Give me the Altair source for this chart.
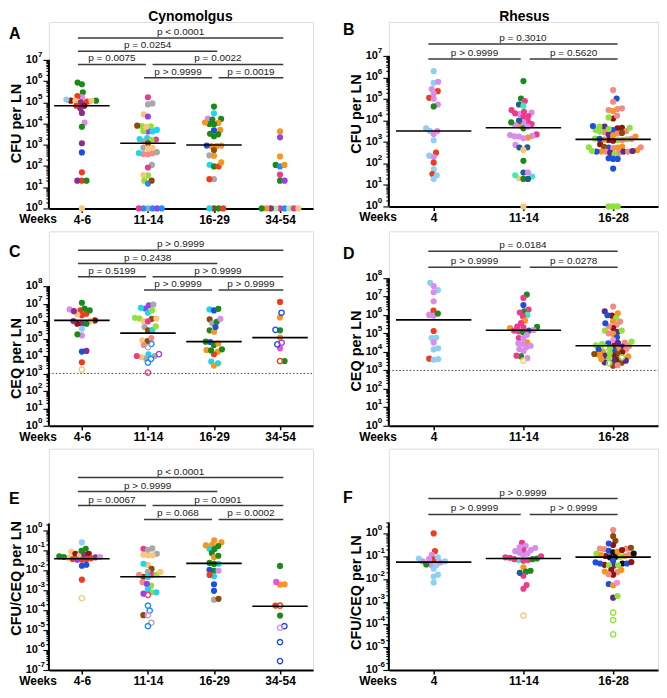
import math
import altair as alt
import pandas as pd

FONT = "Liberation Sans"

COLORS = {
    "green": "#1B8A1B", "plum": "#D98CEB", "peach": "#F8C77D", "maroon": "#8C1616",
    "red": "#EF3B1E", "purple": "#8B2F8C", "sky": "#8DD0F4", "blue": "#1D4FDF",
    "cyan": "#1AD6F0", "orange": "#F7951F", "gray": "#A8A8A8", "brown": "#8C4A0C",
    "pink": "#EC3B8D", "salmon": "#F38B84", "lime": "#8FE23B", "violet": "#9A3EEA",
    "dodger": "#1E8EFE", "teal": "#1E5E8A", "aqua": "#3EEBB3", "indigo": "#5B2B8B",
    "black": "#111111", "lgreen": "#A6EFA6", "magenta": "#F24BE6", "lpink": "#F391D8",
}

# ---------------- data: log10 values ('*' = open symbol) ----------------
A_GROUPS = ["4-6", "11-14", "16-29", "34-54"]
A_LOG10 = [
    [5.93, 5.85, 5.47, 5.24, 5.29, 5.08, 5.07, 5.03, 5.00, 5.08, 5.07, 5.13, 4.84, 4.84, 4.72, 4.50, 4.04, 3.85,
     3.07, 2.64, 1.70, 1.31, 1.31, 1.31, 0],
    [5.24, 4.90, 4.95, 4.43, 4.33, 3.88, 3.87, 3.63, 3.65, 3.70, 3.63, 3.85, 3.90, 3.31, 3.25, 3.22, 3.16, 3.27,
     3.07, 2.86, 2.83, 2.60, 2.56, 2.55, 2.61, 2.65, 2.86, 2.05, 1.93, 1.56, 1.57, 1.31, 1.17, 1.31, 0, 0, 0, 0, 0, 0],
    [4.80, 4.48, 4.24, 4.22, 4.19, 4.03, 3.97, 3.98, 4.05, 3.70, 3.68, 3.52, 3.40, 3.49, 2.96, 2.94, 2.94, 2.96,
     2.75, 2.50, 2.48, 2.06, 1.98, 1.98, 2.17, 1.38, 1.38, 0, 0, 0, 0],
    [3.63, 3.35, 2.45, 2.05, 1.98, 2.05, 1.59, 1.31, 1.31, 0, 0, 0, 0, 0, 0, 0, 0, 0],
]
A_COLS = [
    ["green", "green", "green", "plum", "red", "maroon", "peach", "red", "purple", "green", "peach", "sky", "maroon",
     "red", "purple", "purple", "plum", "green", "purple", "blue", "red", "red", "green", "purple", "peach"],
    ["pink", "gray", "gray", "peach", "violet", "lime", "lime", "violet", "lime", "cyan", "cyan", "peach", "brown",
     "cyan", "pink", "lime", "gray", "cyan", "brown", "gray", "peach", "salmon", "salmon", "salmon", "cyan", "gray",
     "peach", "gray", "pink", "lime", "peach", "lime", "dodger", "brown", "gray", "dodger", "dodger", "violet",
     "pink", "dodger"],
    ["green", "cyan", "plum", "green", "green", "orange", "green", "green", "orange", "orange", "blue", "green",
     "green", "green", "orange", "orange", "orange", "blue", "brown", "gray", "orange", "cyan", "green", "red",
     "orange", "gray", "red", "brown", "green", "cyan", "red"],
    ["orange", "violet", "orange", "green", "dodger", "orange", "pink", "green", "violet", "pink", "dodger",
     "lgreen", "lgreen", "purple", "pink", "orange", "peach", "green"],
]
A_MEDIANS = [4.84, 3.07, 2.99, None]
A_BRACKETS = [(0, 3, "p < 0.0001", 0), (0, 2, "p = 0.0254", 1), (0, 1, "p = 0.0075", 2),
              (1, 3, "p = 0.0022", 2), (1, 2, "p > 0.9999", 3), (2, 3, "p = 0.0019", 3)]

B_GROUPS = ["4", "11-14", "16-28"]
B_LOG10 = [
    [6.29, 5.75, 5.80, 5.36, 5.46, 5.05, 5.25, 5.01, 4.74, 4.65, 3.63, 3.51, 3.51, 3.37, 3.08, 2.50, 2.36, 2.30,
     2.04, 1.73, 1.51, 1.45, 1.28],
    [5.83, 5.02, 4.90, 4.74, 4.68, 4.48, 4.37, 4.30, 4.20, 4.17, 4.33, 4.40, 3.97, 3.83, 3.76, 3.91, 3.99, 3.63,
     3.71, 3.79, 3.91, 3.35, 3.28, 3.20, 3.25, 3.17, 3.26, 3.32, 2.86, 2.74, 2.75, 2.63, 2.12, 1.58, 1.39, 1.31,
     1.28, 1.28, 1.45, 1.58, 0],
    [5.41, 5.02, 4.87, 4.53, 4.48, 4.56, 4.44, 4.09, 4.14, 4.22,
     3.71, 3.66, 3.63, 3.55, 3.51, 3.45, 3.39, 3.35, 3.42, 3.48, 3.55, 3.60, 3.66, 3.71, 3.74,
     3.25, 3.15, 3.12, 3.09, 3.09, 3.06, 3.09, 3.11, 3.14, 3.14, 3.31,
     2.89, 2.74, 2.71, 2.78, 2.74, 2.75, 2.75, 2.77,
     2.55, 2.49, 2.50, 2.55, 2.55, 2.61, 2.55, 2.43, 2.58, 2.55, 2.58,
     2.24, 2.21, 2.21, 1.76, 0, 0, 0],
]
B_COLS = [
    ["sky", "sky", "plum", "red", "plum", "red", "plum", "plum", "plum", "green", "sky", "sky", "plum", "plum",
     "sky", "red", "sky", "plum", "red", "sky", "red", "sky", "sky"],
    ["green", "green", "pink", "teal", "aqua", "pink", "plum", "plum", "pink", "pink", "pink", "pink", "pink",
     "pink", "orange", "plum", "teal", "green", "plum", "plum", "green", "pink", "plum", "orange", "plum", "plum",
     "plum", "plum", "plum", "teal", "teal", "peach", "green", "teal", "aqua", "peach", "green", "teal", "aqua",
     "plum", "peach"],
    ["salmon", "blue", "salmon", "salmon", "salmon", "salmon", "orange", "maroon", "lime", "salmon",
     "indigo", "maroon", "maroon", "blue", "salmon", "salmon", "salmon", "indigo", "brown", "lime", "lime", "lime",
     "lime", "lime", "blue",
     "orange", "lime", "lime", "lime", "maroon", "maroon", "salmon", "orange", "blue", "salmon", "orange",
     "maroon", "blue", "salmon", "orange", "orange", "lime", "salmon", "brown",
     "salmon", "indigo", "salmon", "indigo", "orange", "orange", "salmon", "lime", "indigo", "blue", "lime",
     "blue", "blue", "blue", "blue", "lime", "lime", "lime"],
]
B_MEDIANS = [3.51, 3.66, 3.12]
B_BRACKETS = [(0, 2, "p = 0.3010", 0), (0, 1, "p > 0.9999", 1), (1, 2, "p = 0.5620", 1)]

C_GROUPS = ["4-6", "11-14", "16-29", "34-54"]
C_LOG10 = [
    [7.05, 6.67, 6.61, 6.42, 6.34, 6.38, 6.57, 6.61, 6.72, 6.04, 6.00, 5.85, 5.85, 5.85, 6.00, 5.56, 5.18, 5.24,
     4.29, 4.25, 3.64, 3.22],
    [6.91, 6.72, 6.48, 6.61, 6.76, 6.95, 6.15, 6.13, 6.00, 5.98, 6.19, 6.15, 5.66, 5.47, 5.50, 5.70, 4.69, 4.50,
     4.90, 4.86, 5.03, 4.63, 4.10, 4.11, 3.83, 3.62, 4.00, 3.87, 3.94, 4.00, 3.05],
    [6.67, 6.61, 6.70, 6.10, 5.87, 5.96, 6.13, 5.47, 5.39, 5.66, 4.80, 4.63, 4.72, 4.82, 4.34, 4.25, 4.10, 4.32,
     4.38, 3.68, 3.58, 3.45],
    [7.10, 6.48, 6.21, 5.50, 5.47, 5.05, 4.67, 4.76, 4.44, 3.71, 3.71],
]
C_COLS = [
    ["green", "plum", "red", "red", "red", "peach", "purple", "green", "green", "maroon", "peach", "purple", "green",
     "maroon", "purple", "sky", "plum", "green", "purple", "blue", "red", "peach*"],
    ["violet", "violet", "cyan", "lime", "cyan", "gray", "lime", "brown", "peach", "pink", "lime", "peach", "gray",
     "brown", "cyan", "lime", "dodger*", "gray*", "peach", "brown", "salmon", "salmon", "cyan", "violet*",
     "dodger*", "dodger*", "gray", "gray", "peach", "pink", "pink*"],
    ["cyan", "blue", "green", "brown", "gray", "green", "plum", "green", "orange", "blue", "blue", "green",
     "orange", "green", "orange", "orange", "red", "green", "green", "cyan", "cyan", "orange"],
    ["red", "blue*", "orange", "blue*", "green", "orange", "blue*", "violet*", "magenta", "red*", "green"],
]
C_MEDIANS = [6.04, 5.31, 4.82, 5.05]
C_BRACKETS = [(0, 3, "p > 0.9999", 0), (0, 2, "p = 0.2438", 1), (0, 1, "p = 0.5199", 2),
              (1, 3, "p > 0.9999", 2), (1, 2, "p > 0.9999", 3), (2, 3, "p > 0.9999", 3)]

D_GROUPS = ["4", "11-14", "16-28"]
D_LOG10 = [
    [7.75, 7.35, 7.58, 7.24, 6.75, 6.24, 6.01, 5.97, 6.08, 5.14, 4.76, 4.78, 4.52, 4.20, 4.14, 3.64, 3.58, 3.62],
    [7.11, 6.93, 6.55, 6.21, 6.30, 6.14, 6.01, 5.94, 5.70, 5.57, 5.36, 5.30, 5.16, 5.12, 5.07, 5.16, 5.19, 5.34,
     5.38, 4.76, 4.52, 4.43, 4.47, 4.74, 4.92, 4.16, 4.04, 4.25, 4.34, 3.76, 3.67, 3.80, 3.53],
    [6.46, 6.21, 6.10, 5.97, 5.99, 5.85, 5.65, 5.48, 5.30, 5.38,
     5.56, 5.65, 5.16, 5.09, 4.98, 4.80, 5.01, 5.16, 4.65, 4.51,
     4.47, 4.36, 4.29, 4.33, 4.34, 4.43, 4.49, 4.56, 4.16, 4.07,
     4.25, 4.22, 4.13, 3.98, 4.02, 4.14, 3.85, 3.89, 3.80, 3.76,
     3.80, 3.89, 3.95, 3.71, 3.58, 3.53, 3.42, 3.40, 3.26, 3.28,
     3.44, 3.53, 3.62, 3.67],
]
D_COLS = [
    ["sky", "sky", "plum", "plum", "plum", "red", "plum", "plum", "green", "red", "sky", "sky", "plum", "sky", "sky",
     "red", "sky", "sky"],
    ["green", "pink", "blue", "green", "pink", "pink", "aqua", "pink", "orange", "pink", "green", "orange", "teal",
     "pink", "green", "pink", "plum", "pink", "pink", "pink", "orange", "plum", "plum", "plum", "plum", "plum",
     "plum", "plum", "plum", "green", "plum", "pink", "peach*"],
    ["salmon", "indigo", "orange", "maroon", "blue", "lime", "orange", "salmon", "maroon", "salmon",
     "blue", "salmon", "lime", "indigo", "orange", "blue", "salmon", "lime", "lpink", "salmon",
     "blue", "lime", "indigo", "salmon", "maroon", "lime", "indigo", "lime", "orange", "blue",
     "lime*", "lime", "salmon", "maroon", "orange", "blue", "orange", "brown", "maroon", "orange",
     "indigo", "brown", "lime", "lime*", "maroon", "indigo", "brown", "lime*", "brown", "salmon",
     "indigo", "indigo", "orange", "lime"],
]
D_MEDIANS = [5.74, 5.18, 4.34]
D_BRACKETS = [(0, 2, "p = 0.0184", 0), (0, 1, "p > 0.9999", 1), (1, 2, "p = 0.0278", 1)]

E_GROUPS = ["4-6", "11-14", "16-29", "34-54"]
E_LOG10 = [
    [-0.60, -0.92, -1.07, -1.17, -1.25, -1.35, -1.37, -1.43, -1.47, -1.33, -1.30, -1.22, -1.02, -1.17, -1.33,
     -1.47, -1.45, -1.40, -1.72, -1.77, -2.47, -3.40],
    [-0.92, -1.17, -1.25, -1.25, -1.22, -0.97, -0.90, -1.73, -1.67, -1.93, -2.08, -2.22, -2.32, -2.33, -2.22,
     -2.22, -2.08, -2.60, -2.77, -2.68, -3.10, -3.17, -3.23, -3.10, -2.95, -3.77, -4.02, -4.25, -4.25, -4.63,
     -4.80],
    [-0.60, -0.50, -0.72, -0.78, -0.92, -0.93, -0.75, -1.13, -1.35, -1.27, -1.67, -1.68, -1.63, -2.02, -1.97,
     -2.02, -2.30, -2.23, -2.70, -3.03, -3.47, -3.43],
    [-1.78, -2.70, -2.72, -2.58, -3.77, -3.77, -4.27, -4.80, -4.88, -5.60, -6.55],
]
E_COLS = [
    ["sky", "green", "peach", "maroon", "peach", "purple", "peach", "red", "red", "green", "green", "purple",
     "green", "maroon", "plum", "violet", "red", "red", "blue", "blue", "red", "peach*"],
    ["pink", "gray", "peach", "peach", "peach", "gray", "gray", "peach", "cyan", "brown", "gray", "pink", "brown",
     "cyan", "lime", "salmon", "peach", "salmon", "lime", "violet", "lime", "violet", "pink*", "cyan", "cyan",
     "dodger*", "dodger*", "plum*", "brown", "gray*", "dodger*"],
    ["orange", "orange", "orange", "green", "cyan", "green", "orange", "green", "orange", "green", "cyan", "green",
     "green", "green", "blue", "plum", "cyan", "red", "blue", "blue", "gray", "brown"],
    ["green", "orange", "orange", "magenta", "red*", "red", "green", "blue*", "plum*", "blue*", "blue*"],
]
E_MEDIANS = [-1.42, -2.32, -1.65, -3.80]
E_BRACKETS = [(0, 3, "p < 0.0001", 0), (0, 2, "p > 0.9999", 1), (0, 1, "p = 0.0067", 2),
              (1, 3, "p = 0.0901", 2), (1, 2, "p = 0.068", 3), (2, 3, "p = 0.0002", 3)]

F_GROUPS = ["4", "11-14", "16-28"]
F_LOG10 = [
    [0.0, -0.78, -0.94, -1.14, -1.05, -1.13, -1.23, -1.38, -1.36, -1.55, -1.38, -1.27, -1.10, -1.23, -1.81,
     -1.89, -2.15],
    [-0.41, -0.54, -0.64, -0.73, -0.85, -0.88, -0.78, -0.73, -0.60, -0.97, -1.05, -1.07, -1.17, -1.17, -1.20,
     -1.13, -1.13, -1.10, -1.00, -1.49, -1.68, -1.86, -1.73, -1.64, -2.27, -2.43, -3.61],
    [0.15, -0.12, -0.32, -0.51, -0.66, -0.69, -0.66, -0.63, -0.44, -0.76,
     -0.83, -0.89, -0.92, -0.99, -1.02, -1.02, -1.05, -0.99, -0.95, -0.88,
     -0.80, -0.73, -1.20, -1.27, -1.32, -1.38, -1.42, -1.40, -1.40, -1.32,
     -1.32, -1.26, -1.61, -1.70, -1.81, -1.79, -1.67, -1.61, -2.22, -2.28,
     -2.17, -2.82, -2.75, -3.48, -3.81, -4.43],
]
F_COLS = [
    ["red", "red", "plum", "red", "sky", "plum", "plum", "plum", "green", "sky", "sky", "plum", "sky", "sky", "sky",
     "sky", "sky"],
    ["pink", "plum", "plum", "pink", "plum", "plum", "plum", "plum", "plum", "plum", "pink", "pink", "pink", "aqua",
     "pink", "green", "pink", "green", "pink", "orange", "green", "pink", "teal", "green", "pink", "pink", "peach*"],
    ["salmon", "brown", "brown", "maroon", "salmon", "salmon", "salmon", "brown", "blue", "blue",
     "black", "lime", "salmon", "maroon", "black", "lime", "black", "orange", "orange", "black",
     "orange", "maroon", "blue", "blue", "black", "maroon", "indigo", "lime", "lime", "blue",
     "blue", "maroon", "maroon", "salmon", "maroon", "salmon", "orange", "orange", "blue", "orange",
     "lpink", "indigo", "lime", "lime*", "lime*", "lime*"],
]
F_MEDIANS = [-1.26, -1.10, -1.04]
F_BRACKETS = [(0, 2, "p > 0.9999", 0), (0, 1, "p > 0.9999", 1), (1, 2, "p > 0.9999", 1)]

DATA = {
    "A": (A_GROUPS, A_LOG10, A_COLS, A_MEDIANS, A_BRACKETS),
    "B": (B_GROUPS, B_LOG10, B_COLS, B_MEDIANS, B_BRACKETS),
    "C": (C_GROUPS, C_LOG10, C_COLS, C_MEDIANS, C_BRACKETS),
    "D": (D_GROUPS, D_LOG10, D_COLS, D_MEDIANS, D_BRACKETS),
    "E": (E_GROUPS, E_LOG10, E_COLS, E_MEDIANS, E_BRACKETS),
    "F": (F_GROUPS, F_LOG10, F_COLS, F_MEDIANS, F_BRACKETS),
}

# ---------------- layout ----------------
LEFT_W, RIGHT_W = 265, 270
LAYOUT = {
    "A": dict(W=LEFT_W, H=187, lo=0, hi=8.785, top=7, ytitle="CFU per LN", tc=4.0, br0=16, brs=13.3,
              lx=-40, ly=17, head=("Cynomolgus", 142), lod=None),
    "B": dict(W=RIGHT_W, H=185, lo=0, hi=8.576, top=7, ytitle="CFU per LN", tc=4.3, br0=22, brs=15,
              lx=-46, ly=13, head=("Rhesus", 136), lod=None),
    "C": dict(W=LEFT_W, H=195, lo=0, hi=11.143, top=8, ytitle="CEQ per LN", tc=3.85, br0=19, brs=13.3,
              lx=-40, ly=26, head=None, lod=3),
    "D": dict(W=RIGHT_W, H=195, lo=0, hi=10.54, top=8, ytitle="CEQ per LN", tc=4.05, br0=20, brs=16,
              lx=-46, ly=28, head=None, lod=3),
    "E": dict(W=LEFT_W, H=222, lo=-7, hi=4.1, top=0.35, ytitle="CFU/CEQ per LN", tc=-2.4, br0=29, brs=14,
              lx=-40, ly=55, head=None, lod=None),
    "F": dict(W=RIGHT_W, H=222, lo=-6, hi=3.723, top=0.48, ytitle="CFU/CEQ per LN", tc=-2.6, br0=50, brs=16,
              lx=-46, ly=54, head=None, lod=None),
}
SW_DY = 5.0   # vertical reach (px) of the elliptical exclusion zone around a placed point
SW_DX = 4.6   # horizontal reach (px) of that zone


def swarm(ys, dy_lim, dx):
    order = sorted(range(len(ys)), key=lambda i: ys[i])
    xs = [0.0] * len(ys)
    done = []
    flip = 1
    for i in order:
        spans = []
        for j in done:
            t = (ys[i] - ys[j]) / dy_lim
            if abs(t) < 1:
                w = dx * math.sqrt(1 - t * t)
                spans.append((xs[j] - w, xs[j] + w))
        cands = [0.0] + [s[0] for s in spans] + [s[1] for s in spans]
        ok = [c for c in cands if all(not (a + 1e-6 < c < b - 1e-6) for a, b in spans)]
        best = min(ok, key=lambda c: (round(abs(c), 3), -flip * c))
        xs[i] = best
        if abs(best) > 1e-9:
            flip = -flip
        done.append(i)
    return xs


def panel(key):
    groups, logs, cols, meds, brs = DATA[key]
    L = LAYOUT[key]
    n = len(groups)
    W, H, lo, hi = L["W"], L["H"], L["lo"], L["hi"]
    pxdec = H / (hi - lo)
    band = W / n

    pts = []
    for g in range(n):
        assert len(logs[g]) == len(cols[g]), (key, g)
        xs = swarm([v * pxdec for v in logs[g]], SW_DY, SW_DX)
        for v, c, xp in zip(logs[g], cols[g], xs):
            pts.append(dict(x=g + xp / band, y=10 ** v, color=COLORS[c.rstrip("*")], open=c.endswith("*")))
    pdf = pd.DataFrame(pts)

    xscale = alt.Scale(domain=[-0.5, n - 0.5], nice=False, zero=False)
    yscale = alt.Scale(type="log", domain=[10 ** lo, 10 ** hi], nice=False)
    names = "[" + ",".join("'%s'" % g for g in groups) + "]"
    xaxis = alt.Axis(values=list(range(n)), labelExpr=names + "[round(datum.value)]", title=None, grid=False,
                     domainColor="black", domainWidth=2, tickColor="black", tickWidth=1.5, tickSize=4,
                     labelFont=FONT, labelFontSize=12, labelFontWeight="bold", labelColor="black",
                     labelPadding=2, labelOverlap=False, labelFlush=False)
    ticks = []
    for e in range(math.floor(lo), math.ceil(L["top"]) + 1):
        for k in range(1, 10):
            lv = e + math.log10(k)
            if lo - 1e-9 <= lv <= L["top"] + 1e-9:
                ticks.append(k * 10.0 ** e)
    yaxis = alt.Axis(values=ticks, labels=False, title=None, grid=False, domain=False, tickColor="black",
                     tickWidth=1.1,
                     tickSize={"condition": {"test": "abs(log(datum.value)/LN10 - round(log(datum.value)/LN10)) < 0.01",
                                             "value": 6}, "value": 3})

    def X(f):
        return alt.X(f, type="quantitative", scale=xscale, axis=xaxis)

    def Y(f):
        return alt.Y(f, type="quantitative", scale=yscale, axis=yaxis)

    layers = []
    filled = pdf[~pdf["open"]]
    layers.append(alt.Chart(filled).mark_circle(size=38, opacity=1).encode(
        x=X("x"), y=Y("y"), color=alt.Color("color:N", scale=None)))
    hollow = pdf[pdf["open"]]
    if len(hollow):
        layers.append(alt.Chart(hollow).mark_point(filled=False, size=28, strokeWidth=1.4, opacity=1,
                                                   shape="circle").encode(
            x=X("x"), y=Y("y"), color=alt.Color("color:N", scale=None)))

    # medians
    mrows = [dict(x1=g - 0.42, x2=g + 0.42, y=10 ** m) for g, m in enumerate(meds) if m is not None]
    layers.append(alt.Chart(pd.DataFrame(mrows)).mark_rule(color="black", strokeWidth=1.6).encode(
        x=X("x1"), x2="x2:Q", y=Y("y")))

    # detection limit
    if L["lod"] is not None:
        layers.append(alt.Chart(pd.DataFrame([dict(x1=-0.5, x2=n - 0.5, y=10 ** L["lod"])])).mark_rule(
            color="#444", strokeWidth=1, strokeDash=[1.5, 2]).encode(x=X("x1"), x2="x2:Q", y=Y("y")))

    # y axis line
    layers.append(alt.Chart(pd.DataFrame([dict(x=-0.5, y1=10 ** lo, y2=10 ** L["top"])])).mark_rule(
        color="black", strokeWidth=2).encode(x=X("x"), y=Y("y1"), y2="y2:Q"))

    # y tick labels 10^n
    lab = pd.DataFrame([dict(y=10.0 ** e, e=str(e)) for e in range(math.ceil(lo), math.floor(L["top"]) + 1)])
    layers.append(alt.Chart(lab).mark_text(font=FONT, fontSize=11, fontWeight="bold", align="right",
                                           baseline="middle", color="black", text="10").encode(
        x=alt.value(-11), y=Y("y")))
    layers.append(alt.Chart(lab).mark_text(font=FONT, fontSize=8, fontWeight="bold", align="left",
                                           baseline="middle", color="black", dy=-5).encode(
        x=alt.value(-11), y=Y("y"), text="e:N"))

    # y title
    layers.append(alt.Chart(pd.DataFrame([dict(y=10 ** L["tc"], t=L["ytitle"])])).mark_text(
        font=FONT, fontSize=14.5, fontWeight="bold", angle=270, align="center", baseline="middle",
        color="black").encode(x=alt.value(-32), y=Y("y"), text="t:N"))

    # "Weeks"
    layers.append(alt.Chart(pd.DataFrame([dict(y=10 ** lo, t="Weeks")])).mark_text(
        font=FONT, fontSize=12, fontWeight="bold", align="right", baseline="top", dy=6,
        color="black").encode(x=alt.value(8), y=Y("y"), text="t:N"))

    # brackets
    brows = []
    for (a, b, label, lev) in brs:
        left, right = a - 0.06, b + 0.05
        for (a2, b2, _, lev2) in brs:
            if lev2 == lev and b2 == a:
                left = a + 0.07
            if lev2 == lev and a2 == b:
                right = b - 0.03
        rel = L["br0"] + L["brs"] * lev
        brows.append(dict(x1=left, x2=right, xm=(left + right) / 2, y=10 ** (hi - rel / pxdec), label=label))
    bdf = pd.DataFrame(brows)
    layers.append(alt.Chart(bdf).mark_rule(color="#3a3a3a", strokeWidth=1.5).encode(
        x=X("x1"), x2="x2:Q", y=Y("y")))
    layers.append(alt.Chart(bdf).mark_text(font=FONT, fontSize=10, color="#222", baseline="bottom",
                                           align="center", dy=-1).encode(x=X("xm"), y=Y("y"), text="label:N"))

    # panel letter
    layers.append(alt.Chart(pd.DataFrame([dict(t=key)])).mark_text(
        font=FONT, fontSize=16, fontWeight="bold", align="left", baseline="alphabetic", color="black").encode(
        x=alt.value(L["lx"]), y=alt.value(L["ly"]), text="t:N"))

    if L["head"]:
        txt, hx = L["head"]
        layers.append(alt.Chart(pd.DataFrame([dict(t=txt)])).mark_text(
            font=FONT, fontSize=14, fontWeight="bold", align="center", baseline="top", color="black").encode(
            x=alt.value(hx), y=alt.value(-12), text="t:N"))

    return alt.layer(*layers).properties(width=W, height=H)


chart = alt.concat(
    *[panel(k) for k in "ABCDEF"],
    columns=2, spacing={"row": 23, "column": 76}, bounds="flush", align="each",
).properties(padding=0).configure_view(stroke=None).configure(font=FONT)

chart.save("out.html", embed_options={"renderer": "svg", "actions": False})
